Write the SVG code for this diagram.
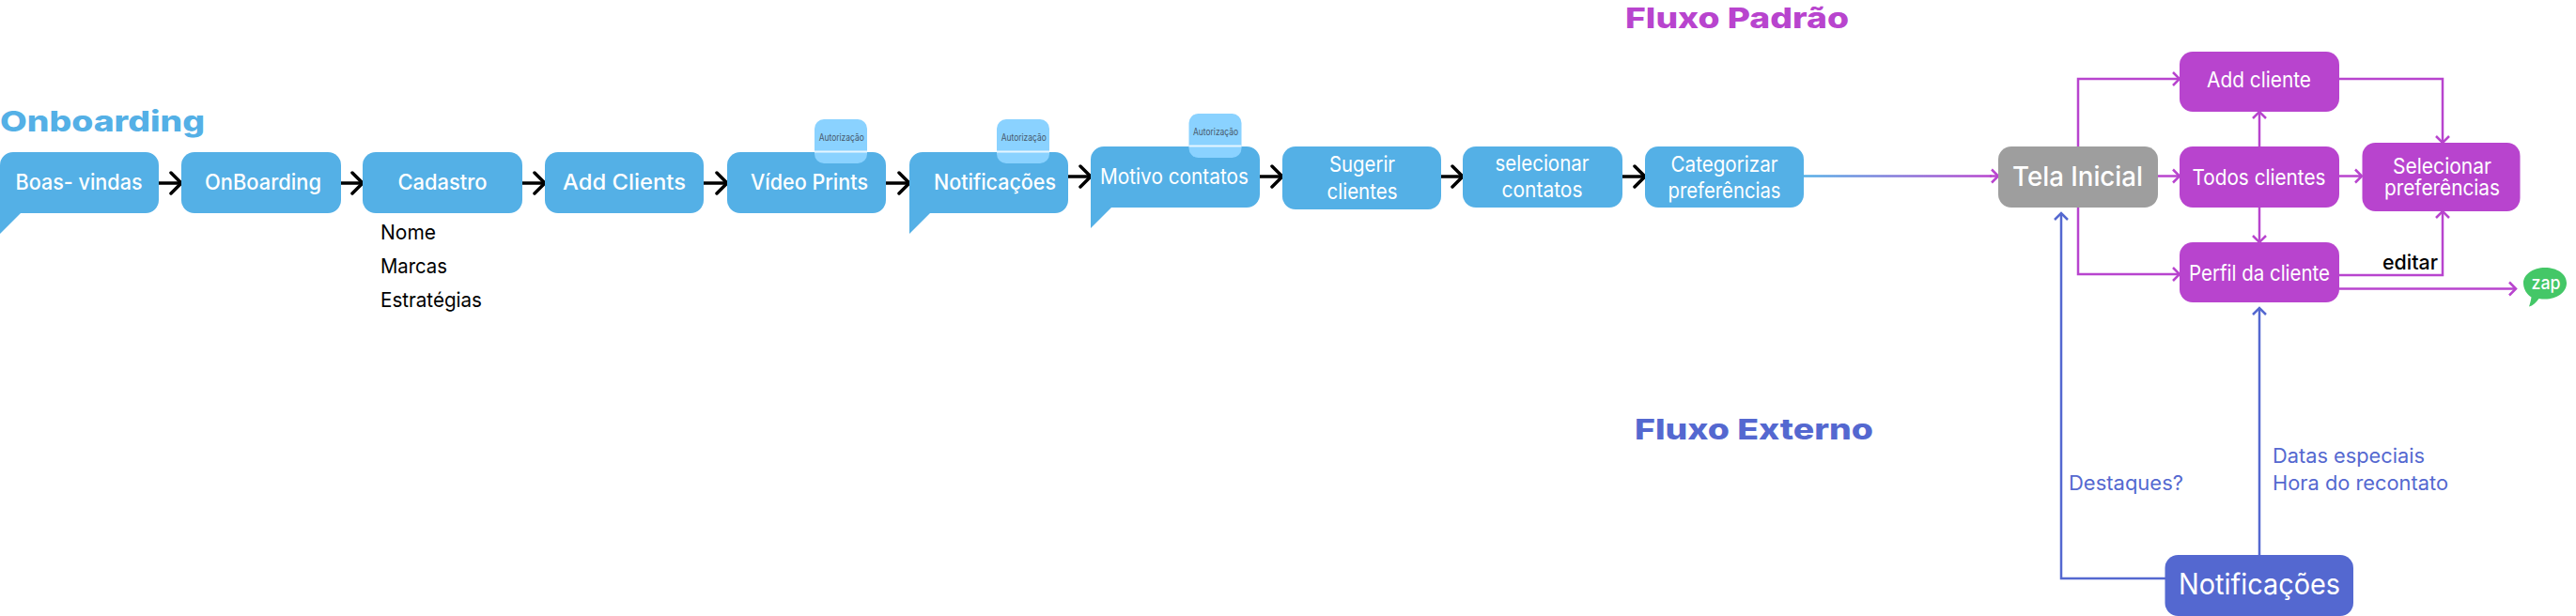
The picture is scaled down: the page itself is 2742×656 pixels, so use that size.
<svg xmlns="http://www.w3.org/2000/svg" width="2742" height="656" viewBox="0 0 2742 656">
<style>
text{font-family:"Inter","Liberation Sans",sans-serif}
.b{fill:#54B0E6}.p{fill:#B844CE}
.t{fill:#fff;font-size:23px;font-weight:500;text-anchor:middle}
.r{font-weight:400}
.h{font-size:30px;font-weight:800}
.d{font-size:22px;fill:#000}
.l{font-size:21px;fill:#5468D0}
.a{fill:#8AD2FF}
.at{font-size:10px;fill:#47586a;text-anchor:middle}
.w{stroke:#E6F6FF;stroke-width:2}
.cb{fill:none;stroke:#000;stroke-width:3.5;marker-end:url(#mk)}
.cp{fill:none;stroke:#B844CE;stroke-width:2.5;marker-end:url(#mp)}
.ci{fill:none;stroke:#5468D0;stroke-width:2.5;marker-end:url(#mi)}
</style>
<defs>
<marker id="mk" markerUnits="userSpaceOnUse" markerWidth="20" markerHeight="30" refX="13" refY="15" orient="auto"><path d="M2 4L13 15L2 26" fill="none" stroke="#000" stroke-width="3.500" stroke-linecap="round"/></marker>
<marker id="mp" markerUnits="userSpaceOnUse" markerWidth="14" markerHeight="20" refX="9" refY="10" orient="auto"><path d="M2 3L9 10L2 17" fill="none" stroke="#B844CE" stroke-width="2.500"/></marker>
<marker id="mi" markerUnits="userSpaceOnUse" markerWidth="14" markerHeight="20" refX="9" refY="10" orient="auto"><path d="M2 3L9 10L2 17" fill="none" stroke="#5468D0" stroke-width="2.500"/></marker>
<linearGradient id="g" gradientUnits="userSpaceOnUse" x1="1920" y1="0" x2="2120" y2="0"><stop offset="0" stop-color="#54B0E6"/><stop offset="1" stop-color="#B844CE"/></linearGradient>
</defs>

<text id="title-onboarding" class="h" x="0" y="140" fill="#54B0E6" textLength="218" lengthAdjust="spacingAndGlyphs">Onboarding</text>
<text id="title-padrao" class="h" x="1730" y="30" fill="#B844CE" textLength="238" lengthAdjust="spacingAndGlyphs">Fluxo Padrão</text>
<text id="title-externo" class="h" x="1740" y="468" fill="#5468D0" textLength="254" lengthAdjust="spacingAndGlyphs">Fluxo Externo</text>

<g id="connectors">
<path class="cb" d="M169 195H193"/>
<path class="cb" d="M363 195H386"/>
<path class="cb" d="M556 195H580"/>
<path class="cb" d="M749 195H774"/>
<path class="cb" d="M943 195H968"/>
<path class="cb" d="M1137 188H1161"/>
<path class="cb" d="M1341 188H1365"/>
<path class="cb" d="M1534 188H1557"/>
<path class="cb" d="M1727 188H1751"/>
<path d="M1920 187.500H2120" fill="none" stroke="url(#g)" stroke-width="2.500"/>
<path class="cp" d="M2118 187.500H2127"/>
<path class="cp" d="M2212 156V84H2320"/>
<path class="cp" d="M2296 187.500H2320"/>
<path class="cp" d="M2212 221V292H2320"/>
<path class="cp" d="M2405 156V119"/>
<path class="cp" d="M2405 221V258"/>
<path class="cp" d="M2490 84H2600V152"/>
<path class="cp" d="M2490 187.500H2514"/>
<path class="cp" d="M2490 293H2600V225"/>
<path class="cp" d="M2490 307.500H2678"/>
<path class="ci" d="M2305 616H2194V227"/>
<path class="ci" d="M2405 591V328"/>
</g>

<g id="boas-vindas"><path class="b" d="M0 176a14 14 0 0 1 14-14H155a14 14 0 0 1 14 14V213a14 14 0 0 1-14 14H22L0 249Z"/><text class="t" x="84" y="202" textLength="135" lengthAdjust="spacingAndGlyphs">Boas- vindas</text></g>
<g id="onboarding"><rect class="b" x="193" y="162" width="170" height="65" rx="14"/><text class="t" x="280" y="202" textLength="124" lengthAdjust="spacingAndGlyphs">OnBoarding</text></g>
<g id="cadastro"><rect class="b" x="386" y="162" width="170" height="65" rx="14"/><text class="t" x="471" y="202" textLength="95" lengthAdjust="spacingAndGlyphs">Cadastro</text></g>
<g id="cadastro-itens"><text class="d" x="405" y="255" textLength="59" lengthAdjust="spacingAndGlyphs">Nome</text><text class="d" x="405" y="291" textLength="71" lengthAdjust="spacingAndGlyphs">Marcas</text><text class="d" x="405" y="327" textLength="108" lengthAdjust="spacingAndGlyphs">Estratégias</text></g>
<g id="add-clients"><rect class="b" x="580" y="162" width="169" height="65" rx="14"/><text class="t" x="664.500" y="202" textLength="131" lengthAdjust="spacingAndGlyphs">Add Clients</text></g>
<g id="video-prints"><rect class="b" x="774" y="162" width="169" height="65" rx="14"/><text class="t" x="861.500" y="202" textLength="125" lengthAdjust="spacingAndGlyphs">Vídeo Prints</text></g>
<g id="auth-video"><rect class="a" x="867" y="127" width="56" height="47" rx="10"/><path class="w" d="M867 161.500H923"/><text class="at" x="895.700" y="150" textLength="48" lengthAdjust="spacingAndGlyphs">Autorização</text></g>
<g id="notificacoes"><path class="b" d="M968 176a14 14 0 0 1 14-14H1123a14 14 0 0 1 14 14V213a14 14 0 0 1-14 14H990L968 249Z"/><text class="t" x="1059" y="202" textLength="130" lengthAdjust="spacingAndGlyphs">Notificações</text></g>
<g id="auth-notif"><rect class="a" x="1061" y="127" width="56" height="47" rx="10"/><path class="w" d="M1061 161.500H1117"/><text class="at" x="1089.700" y="150" textLength="48" lengthAdjust="spacingAndGlyphs">Autorização</text></g>
<g id="motivo"><path class="b" d="M1161 170a14 14 0 0 1 14-14H1327a14 14 0 0 1 14 14V207a14 14 0 0 1-14 14H1183L1161 243Z"/><text class="t r" x="1250" y="196" textLength="158" lengthAdjust="spacingAndGlyphs">Motivo contatos</text></g>
<g id="auth-motivo"><rect class="a" x="1265.500" y="121" width="56" height="47" rx="10"/><path class="w" d="M1265.500 155.500H1321.500"/><text class="at" x="1294" y="144" textLength="48" lengthAdjust="spacingAndGlyphs">Autorização</text></g>
<g id="sugerir"><rect class="b" x="1365" y="156" width="169" height="67" rx="14"/><text class="t r" x="1450" y="183" textLength="70" lengthAdjust="spacingAndGlyphs">Sugerir</text><text class="t r" x="1450" y="212" textLength="75" lengthAdjust="spacingAndGlyphs">clientes</text></g>
<g id="selecionar"><rect class="b" x="1557" y="156" width="170" height="65" rx="14"/><text class="t r" x="1641.500" y="182" textLength="100" lengthAdjust="spacingAndGlyphs">selecionar</text><text class="t r" x="1641.500" y="210" textLength="86" lengthAdjust="spacingAndGlyphs">contatos</text></g>
<g id="categorizar"><rect class="b" x="1751" y="156" width="169" height="65" rx="14"/><text class="t r" x="1835.500" y="183" textLength="114" lengthAdjust="spacingAndGlyphs">Categorizar</text><text class="t r" x="1835.500" y="211" textLength="120" lengthAdjust="spacingAndGlyphs">preferências</text></g>

<g id="tela-inicial"><rect x="2127" y="156" width="170" height="65" rx="14" fill="#9E9E9E"/><text class="t" style="font-size:29px" x="2211.500" y="198" textLength="139" lengthAdjust="spacingAndGlyphs">Tela Inicial</text></g>
<g id="add-cliente"><rect class="p" x="2320" y="55" width="170" height="64" rx="14"/><text class="t r" x="2404.500" y="93" textLength="111" lengthAdjust="spacingAndGlyphs">Add cliente</text></g>
<g id="todos-clientes"><rect class="p" x="2320" y="156" width="170" height="65" rx="14"/><text class="t r" x="2404.500" y="197" textLength="142" lengthAdjust="spacingAndGlyphs">Todos clientes</text></g>
<g id="selecionar-preferencias"><rect class="p" x="2514.500" y="152" width="168" height="73" rx="14"/><text class="t r" x="2599.500" y="185" textLength="105" lengthAdjust="spacingAndGlyphs">Selecionar</text><text class="t r" x="2599.500" y="208" textLength="123" lengthAdjust="spacingAndGlyphs">preferências</text></g>
<g id="perfil"><rect class="p" x="2320" y="258" width="170" height="64" rx="14"/><text class="t r" x="2405" y="299" textLength="150" lengthAdjust="spacingAndGlyphs">Perfil da cliente</text></g>
<g id="editar"><text x="2536" y="287" style="font-size:22px;font-weight:500" fill="#000" textLength="59" lengthAdjust="spacingAndGlyphs">editar</text></g>
<g id="zap"><path d="M2709 285c-12.700 0-23 7.300-23 16.500 0 6 3.500 12 8.500 15-.500 3.500-1.500 7-2.500 10 4-1 7.500-4 10.500-8.500 2 .500 4.500 .5 6.500 .5 12.700 0 23-7.300 23-17s-10.300-16.500-23-16.500Z" fill="#44C767"/><text class="t" style="font-size:19px" x="2710" y="308" textLength="31" lengthAdjust="spacingAndGlyphs">zap</text></g>
<g id="notificacoes-externo"><rect x="2304.500" y="591" width="200.500" height="65" rx="14" fill="#5468D0"/><text class="t r" style="font-size:31px" x="2405" y="633" textLength="172" lengthAdjust="spacingAndGlyphs">Notificações</text></g>
<g id="labels-externo"><text class="l" x="2202" y="522" textLength="122" lengthAdjust="spacingAndGlyphs">Destaques?</text><text class="l" x="2419" y="493" textLength="162" lengthAdjust="spacingAndGlyphs">Datas especiais</text><text class="l" x="2419" y="522" textLength="187" lengthAdjust="spacingAndGlyphs">Hora do recontato</text></g>
</svg>
